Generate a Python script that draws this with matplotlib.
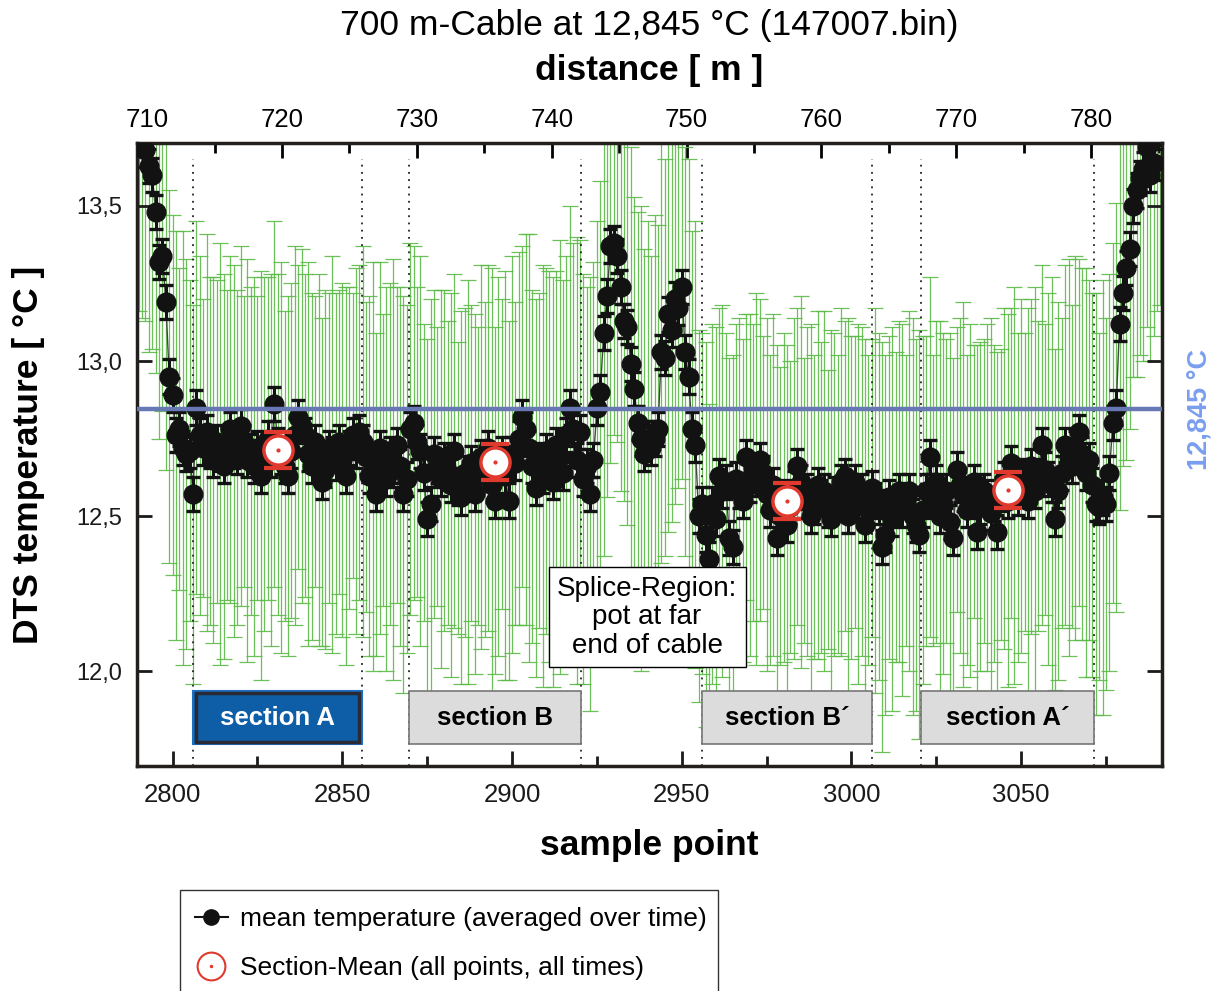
import numpy as np
import matplotlib
matplotlib.use('Agg')
import matplotlib.pyplot as plt
from matplotlib.patches import Rectangle
from matplotlib.lines import Line2D
from matplotlib.legend_handler import HandlerTuple
from matplotlib.ticker import FuncFormatter, MultipleLocator

plt.rcParams['font.family'] = ['Liberation Sans', 'DejaVu Sans']

# ---- data ----
sample_start = 2790

# time-averaged temperature per sample point
mean_temp = [
    13.78, 13.72, 13.68, 13.63, 13.60, 13.48, 13.32, 13.34, 13.19, 12.95,  # 2790
    12.89, 12.76, 12.78, 12.72, 12.70, 12.71, 12.57, 12.85, 12.76, 12.72,  # 2800
    12.77, 12.71, 12.68, 12.74, 12.70, 12.66, 12.73, 12.78, 12.71, 12.69,  # 2810
    12.79, 12.74, 12.68, 12.71, 12.66, 12.72, 12.63, 12.70, 12.75, 12.68,  # 2820
    12.86, 12.73, 12.69, 12.66, 12.63, 12.71, 12.76, 12.82, 12.79, 12.76,  # 2830
    12.70, 12.66, 12.74, 12.68, 12.61, 12.65, 12.72, 12.70, 12.67, 12.74,  # 2840
    12.68, 12.63, 12.72, 12.76, 12.71, 12.77, 12.74, 12.69, 12.63, 12.66,  # 2850
    12.57, 12.72, 12.68, 12.62, 12.70, 12.65, 12.73, 12.66, 12.57, 12.62,  # 2860
    12.78, 12.80, 12.74, 12.71, 12.64, 12.49, 12.54, 12.70, 12.66, 12.62,  # 2870
    12.68, 12.64, 12.60, 12.71, 12.59, 12.56, 12.64, 12.61, 12.67, 12.57,  # 2880
    12.63, 12.69, 12.65, 12.72, 12.60, 12.55, 12.66, 12.70, 12.63, 12.55,  # 2890
    12.70, 12.67, 12.75, 12.82, 12.78, 12.72, 12.66, 12.59, 12.68, 12.63,  # 2900
    12.71, 12.66, 12.61, 12.73, 12.69, 12.64, 12.76, 12.85, 12.78, 12.68,  # 2910
    12.77, 12.62, 12.66, 12.57, 12.68, 12.85, 12.90, 13.09, 13.21, 13.37,  # 2920
    13.38, 13.34, 13.24, 13.13, 13.11, 12.99, 12.91, 12.80, 12.75, 12.70,  # 2930
    12.75, 12.72, 12.75, 12.78, 13.03, 13.01, 13.15, 13.10, 13.20, 13.17,  # 2940
    13.24, 13.03, 12.95, 12.78, 12.73, 12.50, 12.54, 12.44, 12.36, 12.54,  # 2950
    12.49, 12.63, 12.58, 12.61, 12.43, 12.40, 12.62, 12.58, 12.55, 12.69,  # 2960
    12.60, 12.64, 12.62, 12.68, 12.64, 12.57, 12.52, 12.60, 12.43, 12.50,  # 2970
    12.56, 12.47, 12.53, 12.59, 12.66, 12.61, 12.55, 12.58, 12.50, 12.53,  # 2980
    12.60, 12.56, 12.58, 12.52, 12.49, 12.57, 12.54, 12.61, 12.63, 12.50,  # 2990
    12.56, 12.61, 12.54, 12.58, 12.47, 12.52, 12.59, 12.55, 12.53, 12.40,  # 3000
    12.44, 12.56, 12.49, 12.53, 12.58, 12.52, 12.55, 12.58, 12.50, 12.47,  # 3010
    12.44, 12.52, 12.58, 12.69, 12.55, 12.61, 12.50, 12.54, 12.58, 12.48,  # 3020
    12.43, 12.65, 12.60, 12.57, 12.52, 12.55, 12.61, 12.45, 12.53, 12.58,  # 3030
    12.56, 12.51, 12.54, 12.45, 12.57, 12.62, 12.55, 12.67, 12.60, 12.56,  # 3040
    12.63, 12.61, 12.55, 12.66, 12.58, 12.63, 12.73, 12.65, 12.62, 12.60,  # 3050
    12.49, 12.58, 12.64, 12.73, 12.69, 12.66, 12.72, 12.77, 12.70, 12.64,  # 3060
    12.68, 12.60, 12.54, 12.53, 12.56, 12.54, 12.64, 12.80, 12.85, 13.12,  # 3070
    13.22, 13.30, 13.36, 13.50, 13.55, 13.59, 13.62, 13.69, 13.60, 13.64,  # 3080
    13.74, 13.78,                                                          # 3090
]

# standard deviation over time (green bars)
std_time = [
    0.62, 0.58, 0.55, 0.60, 0.56, 0.52, 0.57, 0.50, 0.54, 0.60,
    0.58, 0.66, 0.52, 0.70, 0.63, 0.55, 0.61, 0.60, 0.58, 0.48,
    0.64, 0.56, 0.59, 0.52, 0.68, 0.62, 0.50, 0.56, 0.60, 0.54,
    0.58, 0.47, 0.65, 0.53, 0.61, 0.49, 0.66, 0.57, 0.52, 0.60,
    0.59, 0.55, 0.63, 0.50, 0.58, 0.54, 0.61, 0.49, 0.57, 0.52,
    0.62, 0.56, 0.47, 0.60, 0.53, 0.58, 0.50, 0.64, 0.55, 0.49,
    0.57, 0.61, 0.52, 0.46, 0.59, 0.54, 0.63, 0.50, 0.58, 0.66,
    0.52, 0.60, 0.47, 0.62, 0.55, 0.68, 0.51, 0.58, 0.64, 0.56,
    0.60, 0.57, 0.50, 0.63, 0.48, 0.58, 0.66, 0.53, 0.45, 0.61,
    0.55, 0.49, 0.62, 0.57, 0.47, 0.60, 0.53, 0.65, 0.51, 0.58,
    0.48, 0.62, 0.54, 0.59, 0.70, 0.56, 0.61, 0.50, 0.66, 0.58,
    0.64, 0.52, 0.60, 0.55, 0.63, 0.69, 0.57, 0.61, 0.54, 0.68,
    0.59, 0.63, 0.66, 0.56, 0.70, 0.62, 0.58, 0.65, 0.60, 0.72,
    0.62, 0.66, 0.58, 0.70, 0.64, 0.60, 0.68, 0.72, 0.65, 0.70,
    0.62, 0.60, 0.66, 0.58, 0.64, 0.70, 0.62, 0.68, 0.75, 0.66,
    0.70, 0.62, 0.72, 0.66, 0.68, 0.64, 0.70, 0.62, 0.66, 0.58,
    0.62, 0.66, 0.70, 0.64, 0.72, 0.60, 0.55, 0.62, 0.50, 0.58,
    0.62, 0.54, 0.60, 0.48, 0.58, 0.62, 0.50, 0.56, 0.52, 0.46,
    0.55, 0.48, 0.60, 0.52, 0.44, 0.57, 0.50, 0.55, 0.62, 0.48,
    0.53, 0.58, 0.47, 0.55, 0.51, 0.60, 0.46, 0.53, 0.62, 0.49,
    0.56, 0.50, 0.58, 0.45, 0.61, 0.52, 0.48, 0.56, 0.50, 0.64,
    0.52, 0.47, 0.58, 0.53, 0.60, 0.50, 0.48, 0.62, 0.56, 0.66,
    0.58, 0.52, 0.62, 0.50, 0.55, 0.60, 0.47, 0.58, 0.64, 0.60,
    0.66, 0.56, 0.50, 0.58, 0.47, 0.52, 0.63, 0.55, 0.49, 0.61,
    0.58, 0.46, 0.54, 0.62, 0.50, 0.57, 0.44, 0.60, 0.53, 0.49,
    0.56, 0.63, 0.51, 0.58, 0.47, 0.55, 0.60, 0.50, 0.64, 0.53,
    0.57, 0.48, 0.62, 0.54, 0.66, 0.50, 0.58, 0.47, 0.60, 0.67,
    0.55, 0.61, 0.50, 0.58, 0.64, 0.52, 0.62, 0.56, 0.60, 0.66,
    0.58, 0.62, 0.68, 0.56, 0.70, 0.60, 0.64, 0.58, 0.66, 0.60,
    0.56, 0.62, 0.58, 0.55, 0.60, 0.57, 0.62, 0.58, 0.60, 0.56,
    0.58, 0.60,
]
mean_err = 0.055  # error of the time average (black bars)

section_names = ['section A', 'section B', 'section B\u00b4', 'section A\u00b4']
section_left = [2805.9, 2869.6, 2955.9, 3020.6]
section_right = [2855.9, 2920.3, 3006.2, 3071.5]
section_mean = [12.713, 12.675, 12.547, 12.584]
section_err = [0.058, 0.058, 0.058, 0.058]

ref_temp = 12.845

sample = np.arange(sample_start, sample_start + len(mean_temp))
section_x = [(l + r) / 2 for l, r in zip(section_left, section_right)]

# ---- figure ----
fig = plt.figure(figsize=(12.16, 9.91), dpi=100)
ax = fig.add_axes([137 / 1216, 1 - 766 / 991, 1025 / 1216, 623 / 991])

# std over time
ax.errorbar(sample, mean_temp, yerr=std_time, fmt='none', ecolor='#5cba48',
            elinewidth=0.9, capsize=6, capthick=0.9, alpha=0.9, zorder=1)

# section boundaries
for xb in section_left + section_right:
    ax.axvline(xb, ymin=0, ymax=0.975, color='#222222', lw=1.3,
               ls=(0, (1, 3)), zorder=2)

# time mean
ax.plot(sample, mean_temp, color='#444444', lw=1, zorder=3)
ax.errorbar(sample, mean_temp, yerr=mean_err, fmt='o', color='#121212',
            ms=13.5, elinewidth=2.2, capsize=5, capthick=2.4, zorder=4)

ax.axhline(ref_temp, color='#6878b4', lw=3.2, zorder=5)

# section means
ax.errorbar(section_x, section_mean, yerr=section_err, fmt='none',
            ecolor='#e03a2f', elinewidth=2.5, capsize=10, capthick=3, zorder=6)
ax.plot(section_x, section_mean, 'o', ms=21, mfc='white', mec='#e03a2f',
        mew=2.5, zorder=7)
ax.plot(section_x, section_mean, 'o', ms=2, color='#e03a2f', zorder=8)

# section label boxes
for i, name in enumerate(section_names):
    x0, x1 = section_left[i], section_right[i]
    if i == 0:
        ax.add_patch(Rectangle((x0, 11.764), x1 - x0, 0.172, facecolor='#0d5ea6',
                               edgecolor='#1f6fc0', lw=1.5, zorder=9))
        ax.add_patch(Rectangle((x0 + 1.0, 11.772), x1 - x0 - 2.0, 0.156, facecolor='none',
                               edgecolor='#2a2a36', lw=2.5, zorder=9))
        tc = 'white'
    else:
        ax.add_patch(Rectangle((x0, 11.764), x1 - x0, 0.172, facecolor='#dcdcdc',
                               edgecolor='#777777', lw=1.2, zorder=9))
        tc = 'black'
    ax.text((x0 + x1) / 2, 11.85, name, ha='center', va='center', fontsize=18.5,
            fontweight='bold', color=tc, zorder=10)

ax.text(2939.8, 12.174, 'Splice-Region:\npot at far\nend of cable', ha='center',
        va='center', fontsize=20, linespacing=1.12, zorder=10,
        bbox=dict(boxstyle='square,pad=0.3', facecolor='white', edgecolor='black', lw=1))

ax.text(1.037, ref_temp, '12,845 \u00b0C', transform=ax.get_yaxis_transform(),
        rotation=90, color='#7a9ef0', fontsize=19.5, fontweight='bold',
        ha='center', va='center')

# axes
ax.set_xlim(2789.5, 3091.5)
ax.set_ylim(11.694, 13.703)
ax.xaxis.set_major_locator(MultipleLocator(50))
ax.xaxis.set_minor_locator(MultipleLocator(25))
ax.yaxis.set_major_locator(MultipleLocator(0.5))
ax.yaxis.set_major_formatter(FuncFormatter(lambda v, p: f'{v:.1f}'.replace('.', ',')))
ax.tick_params(which='both', direction='in', top=False, right=True, width=2,
               labelsize=18.5, colors='#1a1a1a')
ax.tick_params(which='major', length=11)
ax.tick_params(which='minor', length=7)
ax.tick_params(axis='x', pad=12)
ax.tick_params(axis='y', pad=11, labelsize=17)
for sp in ax.spines.values():
    sp.set_linewidth(2.5)
    sp.set_color('#231f1c')

ax.set_xlabel('sample point', fontsize=25.5, fontweight='bold', labelpad=16)
ax.set_ylabel('DTS temperature [ \u00b0C ]', fontsize=25.5, fontweight='bold', labelpad=22)


def to_dist(s):
    return 710 + (np.asarray(s) - 2792.5) * 0.2517


def to_sample(d):
    return 2792.5 + (np.asarray(d) - 710) / 0.2517


secax = ax.secondary_xaxis('top', functions=(to_dist, to_sample))
secax.set_xticks(np.arange(710, 790, 10))
secax.xaxis.set_minor_locator(MultipleLocator(5))
secax.tick_params(which='both', direction='in', width=2, labelsize=18.5, pad=8)
secax.tick_params(which='major', length=11)
secax.tick_params(which='minor', length=7)
secax.set_xlabel('distance [ m ]', fontsize=25.5, fontweight='bold', labelpad=20)

fig.text(649 / 1216, 1 - 25 / 991, '700 m-Cable at 12,845 \u00b0C (147007.bin)',
         ha='center', va='center', fontsize=25.5)

# legend below the plot
fig.add_artist(Rectangle((180 / 1216, -0.05), 538 / 1216, 0.05 + 101 / 991,
                         transform=fig.transFigure, fill=False,
                         edgecolor='#333333', lw=1))
h1 = Line2D([], [], color='#121212', marker='o', ms=11, lw=1.5)
h2 = (Line2D([], [], ls='none', marker='o', ms=20, mfc='white', mec='#e03a2f', mew=1.5),
      Line2D([], [], ls='none', marker='o', ms=1.5, color='#e03a2f'))
fig.legend([h1, h2], ['mean temperature (averaged over time)',
                      'Section-Mean (all points, all times)'],
           handler_map={tuple: HandlerTuple(ndivide=1, pad=0)},
           loc='upper left', bbox_to_anchor=(195 / 1216, 1 - 907 / 991),
           frameon=False, fontsize=19, handlelength=1.25, labelspacing=0.95,
           handletextpad=0.45, borderpad=0, borderaxespad=0)

fig.savefig('out.png', dpi=100)
